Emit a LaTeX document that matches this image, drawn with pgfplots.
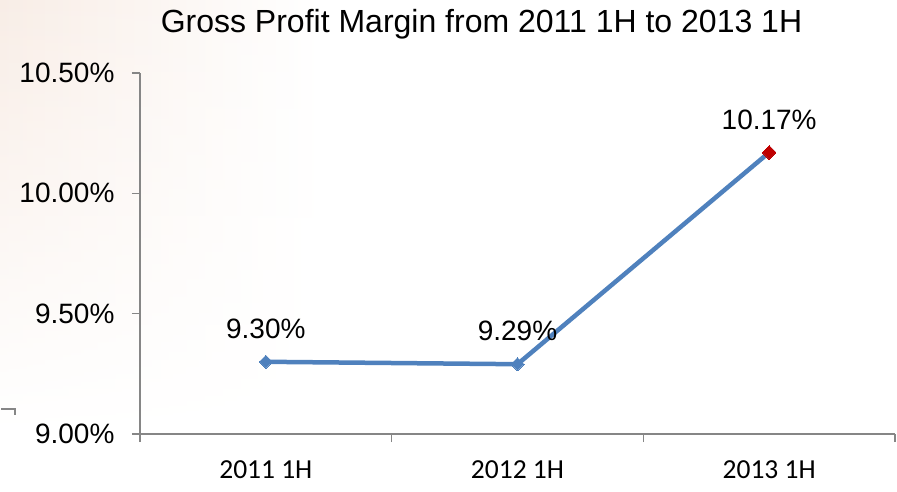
\documentclass[border=0pt]{standalone}
\usepackage{pgfplots}
\pgfplotsset{compat=1.18}
\usetikzlibrary{fadings}
\usepackage{fontspec}
\setmainfont{Liberation Sans}
\newfontfamily\calib{Carlito}
\definecolor{lineblue}{HTML}{4F81BD}
\definecolor{axgray}{HTML}{868686}
\definecolor{mred}{HTML}{C00000}
\definecolor{bgpink}{HTML}{F8EDE6}
\begin{document}
\begin{tikzpicture}[x=1pt,y=1pt]
\path[use as bounding box] (0,0) rectangle (897,491);
\shade[left color=bgpink, right color=white, path fading=south] (0,60) rectangle (320,491);
\draw[axgray, line width=1.2pt] (1,82) -- (15,82) -- (15,76);
\begin{axis}[
  at={(140pt,57pt)}, anchor=south west,
  scale only axis, width=755pt, height=361pt,
  xmin=-0.5, xmax=2.5, ymin=9.0, ymax=10.5,
  axis x line=bottom, axis y line=left,
  axis line style={axgray, line width=1.2pt, -},
  xtick={-0.5,0.5,1.5,2.5}, xticklabels={},
  extra x ticks={0,1,2}, extra x tick labels={2011 1H,2012 1H,2013 1H},
  extra x tick style={major tick length=0pt, tick label style={font=\calib\fontsize{27.5}{30}\selectfont, yshift=-23pt}},
  ytick={9.0,9.5,10.0,10.5},
  yticklabels={9.00\%,9.50\%,10.00\%,10.50\%},
  yticklabel style={font=\fontsize{28}{31}\selectfont, xshift=-14pt},
  tick style={axgray, line width=1.2pt},
  major tick length=8pt,
  tick align=outside,
  title={Gross Profit Margin from 2011 1H to 2013 1H},
  title style={font=\fontsize{32}{34}\selectfont, yshift=24pt, xshift=-36pt},
  clip=false,
]
\addplot[lineblue, line width=4.5pt, mark=square*, mark size=4.6pt, mark options={rotate=45, line width=0pt}]
  coordinates {(0,9.30) (1,9.29) (2,10.17)};
\addplot[only marks, mark=square*, mark size=4.8pt, color=mred, mark options={rotate=45, line width=0pt}]
  coordinates {(2,10.17)};
\addplot[only marks, mark=none, nodes near coords, point meta=explicit symbolic,
  nodes near coords style={font=\fontsize{28}{31}\selectfont, anchor=center, yshift=33pt, text=black}]
  coordinates {(0,9.30)[9.30\%] (1,9.29)[9.29\%] (2,10.17)[10.17\%]};
\end{axis}
\end{tikzpicture}
\end{document}
